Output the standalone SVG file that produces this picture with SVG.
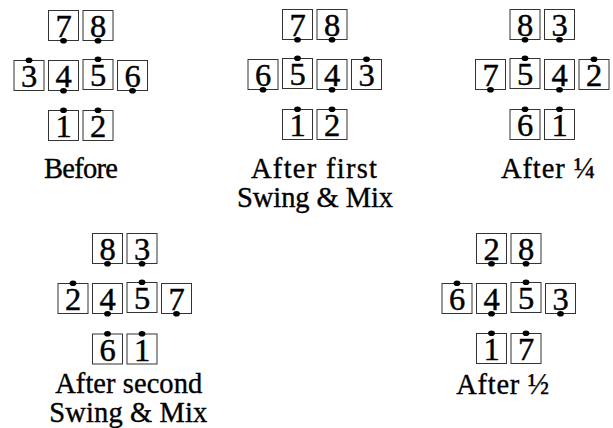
<svg xmlns="http://www.w3.org/2000/svg" width="613" height="428" viewBox="0 0 613 428">
<style>
.box{fill:#fff;stroke:#333;stroke-width:1}
.num{font-family:"Liberation Serif","Times New Roman",serif;font-size:32.5px;text-anchor:middle;fill:#000;stroke:#000;stroke-width:0.45}
.dot{fill:#000}
.lbl{font-family:"Liberation Serif","Times New Roman",serif;font-size:28.5px;text-anchor:middle;fill:#000;stroke:#000;stroke-width:0.35}
</style>
<defs>
<rect id="b" class="box" x="0" y="0" width="30" height="30"/>
<ellipse id="dt" class="dot" cx="15" cy="-0.3" rx="3.4" ry="2.8"/>
<ellipse id="db" class="dot" cx="15" cy="30.3" rx="3.4" ry="2.8"/>
</defs>
<g id="connectors"/>

<!-- Diagram 1: Before -->
<g id="before">
<g id="d1-7" transform="translate(48.5,10.5)"><use href="#b"/><text class="num" x="15" y="26.7">7</text><use href="#db"/></g>
<g id="d1-8" transform="translate(83,10.5)"><use href="#b"/><text class="num" x="15" y="26.7">8</text><use href="#db"/></g>
<g id="d1-3" transform="translate(14,60.5)"><use href="#b"/><text class="num" x="15" y="26.7">3</text><use href="#dt"/></g>
<g id="d1-4" transform="translate(48.5,60.5)"><use href="#b"/><text class="num" x="15" y="26.7">4</text><use href="#db"/></g>
<g id="d1-5" transform="translate(83,59.5)"><use href="#b"/><text class="num" x="15" y="26.7">5</text><use href="#dt"/></g>
<g id="d1-6" transform="translate(117.5,60.5)"><use href="#b"/><text class="num" x="15" y="26.7">6</text><use href="#db"/></g>
<g id="d1-1" transform="translate(48.5,110.5)"><use href="#b"/><text class="num" x="15" y="26.7">1</text><use href="#dt"/></g>
<g id="d1-2" transform="translate(83,110.5)"><use href="#b"/><text class="num" x="15" y="26.7">2</text><use href="#dt"/></g>
<text class="lbl" x="81" y="178" textLength="74" lengthAdjust="spacing">Before</text>
</g>

<!-- Diagram 2: After first Swing & Mix -->
<g id="after-first">
<g id="d2-7" transform="translate(282.5,9.5)"><use href="#b"/><text class="num" x="15" y="26.7">7</text><use href="#db"/></g>
<g id="d2-8" transform="translate(317,9.5)"><use href="#b"/><text class="num" x="15" y="26.7">8</text><use href="#db"/></g>
<g id="d2-6" transform="translate(248,59.5)"><use href="#b"/><text class="num" x="15" y="26.7">6</text><use href="#db"/></g>
<g id="d2-5" transform="translate(282.5,58.5)"><use href="#b"/><text class="num" x="15" y="26.7">5</text><use href="#dt"/></g>
<g id="d2-4" transform="translate(317,59.5)"><use href="#b"/><text class="num" x="15" y="26.7">4</text><use href="#db"/></g>
<g id="d2-3" transform="translate(351.5,59.5)"><use href="#b"/><text class="num" x="15" y="26.7">3</text><use href="#dt"/></g>
<g id="d2-1" transform="translate(282.5,109.5)"><use href="#b"/><text class="num" x="15" y="26.7">1</text><use href="#dt"/></g>
<g id="d2-2" transform="translate(317,109.5)"><use href="#b"/><text class="num" x="15" y="26.7">2</text><use href="#dt"/></g>
<text class="lbl" x="314" y="178" textLength="126" lengthAdjust="spacing">After first</text>
<text class="lbl" x="315" y="206.5" textLength="156" lengthAdjust="spacing">Swing &amp; Mix</text>
</g>

<!-- Diagram 3: After 1/4 -->
<g id="after-quarter">
<g id="d3-8" transform="translate(510,9.5)"><use href="#b"/><text class="num" x="15" y="26.7">8</text><use href="#db"/></g>
<g id="d3-3" transform="translate(544.5,9.5)"><use href="#b"/><text class="num" x="15" y="26.7">3</text><use href="#db"/></g>
<g id="d3-7" transform="translate(475.5,59.5)"><use href="#b"/><text class="num" x="15" y="26.7">7</text><use href="#db"/></g>
<g id="d3-5" transform="translate(510,58.5)"><use href="#b"/><text class="num" x="15" y="26.7">5</text><use href="#dt"/></g>
<g id="d3-4" transform="translate(544.5,59.5)"><use href="#b"/><text class="num" x="15" y="26.7">4</text><use href="#db"/></g>
<g id="d3-2" transform="translate(579,59.5)"><use href="#b"/><text class="num" x="15" y="26.7">2</text><use href="#dt"/></g>
<g id="d3-6" transform="translate(510,109.5)"><use href="#b"/><text class="num" x="15" y="26.7">6</text><use href="#dt"/></g>
<g id="d3-1" transform="translate(544.5,109.5)"><use href="#b"/><text class="num" x="15" y="26.7">1</text><use href="#dt"/></g>
<text class="lbl" x="548" y="178" textLength="94" lengthAdjust="spacing">After ¼</text>
</g>

<!-- Diagram 4: After second Swing & Mix -->
<g id="after-second">
<g id="d4-8" transform="translate(92.5,233.5)"><use href="#b"/><text class="num" x="15" y="26.7">8</text><use href="#db"/></g>
<g id="d4-3" transform="translate(127,233.5)"><use href="#b"/><text class="num" x="15" y="26.7">3</text><use href="#db"/></g>
<g id="d4-2" transform="translate(58,283.5)"><use href="#b"/><text class="num" x="15" y="26.7">2</text><use href="#dt"/></g>
<g id="d4-4" transform="translate(92.5,283.5)"><use href="#b"/><text class="num" x="15" y="26.7">4</text><use href="#db"/></g>
<g id="d4-5" transform="translate(127,282.5)"><use href="#b"/><text class="num" x="15" y="26.7">5</text><use href="#dt"/></g>
<g id="d4-7" transform="translate(161.5,283.5)"><use href="#b"/><text class="num" x="15" y="26.7">7</text><use href="#db"/></g>
<g id="d4-6" transform="translate(92.5,334)"><use href="#b"/><text class="num" x="15" y="26.7">6</text><use href="#dt"/></g>
<g id="d4-1" transform="translate(127,334)"><use href="#b"/><text class="num" x="15" y="26.7">1</text><use href="#dt"/></g>
<text class="lbl" x="128.7" y="393" textLength="147" lengthAdjust="spacing">After second</text>
<text class="lbl" x="128.3" y="421.5" textLength="158" lengthAdjust="spacing">Swing &amp; Mix</text>
</g>

<!-- Diagram 5: After 1/2 -->
<g id="after-half">
<g id="d5-2" transform="translate(476.5,233.5)"><use href="#b"/><text class="num" x="15" y="26.7">2</text><use href="#db"/></g>
<g id="d5-8" transform="translate(511,233.5)"><use href="#b"/><text class="num" x="15" y="26.7">8</text><use href="#db"/></g>
<g id="d5-6" transform="translate(442,283.5)"><use href="#b"/><text class="num" x="15" y="26.7">6</text><use href="#dt"/></g>
<g id="d5-4" transform="translate(476.5,283.5)"><use href="#b"/><text class="num" x="15" y="26.7">4</text><use href="#db"/></g>
<g id="d5-5" transform="translate(511,282.5)"><use href="#b"/><text class="num" x="15" y="26.7">5</text><use href="#dt"/></g>
<g id="d5-3" transform="translate(545.5,283.5)"><use href="#b"/><text class="num" x="15" y="26.7">3</text><use href="#db"/></g>
<g id="d5-1" transform="translate(476.5,333.5)"><use href="#b"/><text class="num" x="15" y="26.7">1</text><use href="#dt"/></g>
<g id="d5-7" transform="translate(511,333.5)"><use href="#b"/><text class="num" x="15" y="26.7">7</text><use href="#dt"/></g>
<text class="lbl" x="502.7" y="394" textLength="93" lengthAdjust="spacing">After ½</text>
</g>
</svg>
